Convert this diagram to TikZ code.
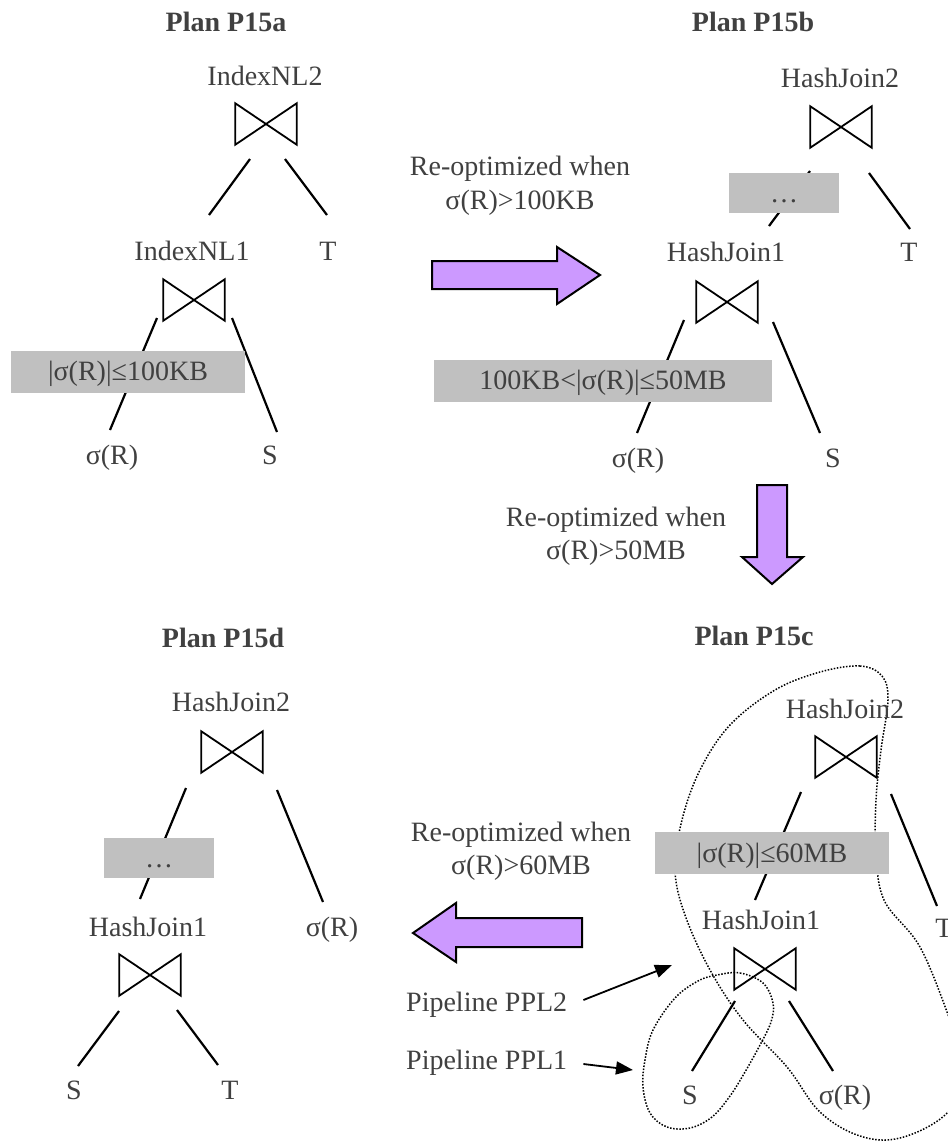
\documentclass[tikz,border=0pt]{standalone}
\usepackage{fontspec}
\setmainfont{Liberation Serif}
\usetikzlibrary{arrows.meta}
\definecolor{ink}{RGB}{64,64,64}
\definecolor{boxgray}{RGB}{192,192,192}
\definecolor{lilac}{RGB}{204,153,255}
\begin{document}
\begin{tikzpicture}[x=1pt,y=-1pt,
  lbl/.style={inner sep=0pt, text=ink, font=\fontsize{28}{34}\selectfont, text height=18.5pt, text depth=0pt},
  title/.style={lbl, font=\fontsize{28}{34}\selectfont\bfseries},
  tie/.style={minimum width=61pt, minimum height=41pt, inner sep=0pt},
  cond/.style={lbl, fill=boxgray, minimum height=42pt},
  edge/.style={line width=2.2pt},
  tieline/.style={line width=1.8pt, line join=miter},
  bigarrow/.style={fill=lilac, draw=black, line width=2pt, line join=miter},
  pipeloop/.style={line width=1.5pt, dash pattern=on 1.5pt off 1.6pt},
  pointer/.style={line width=1.8pt, -{Triangle[length=17pt,width=13pt]}}
]
\useasboundingbox (0,0) rectangle (948,1144);

% pipeline outlines of plan P15c
\draw[pipeloop] plot[smooth cycle, tension=0.6] coordinates {
  (820,672) (860,666) (882,676) (888,700) (881,750) (876,800) (876,850)
  (884,900) (920,947) (950,1020) (968,1075) (945,1115) (900,1138)
  (860,1136) (820,1112) (787,1067) (743,1020) (710,970) (685,915)
  (675,870) (682,820) (700,770) (730,725) (775,690)};
\draw[pipeloop] plot[smooth cycle, tension=0.6] coordinates {
  (717,975) (740,973) (763,983) (773,1003) (771,1022) (760,1045)
  (745,1072) (730,1096) (712,1117) (690,1128) (667,1127) (650,1113)
  (643,1087) (645,1060) (653,1030) (675,998) (698,981)};

% titles
\node[title] (ta) at (226,22) {Plan P15a};
\node[title] (tb) at (753,22) {Plan P15b};
\node[title] (tc) at (754,636) {Plan P15c};
\node[title] (td) at (223,638) {Plan P15d};

% plan P15a
\node[lbl] (a2l) at (265,76) {IndexNL2};
\node[tie] (a2) at (266,124) {};
\node[lbl] (a1l) at (192,251) {IndexNL1};
\node[lbl] (aT) at (328,251) {T};
\node[tie] (a1) at (194,300) {};
\node[lbl] (aR) at (112,455) {σ(R)};
\node[lbl] (aS) at (270,455) {S};

% plan P15b
\node[lbl] (b2l) at (840,78) {HashJoin2};
\node[tie] (b2) at (841,127) {};
\node[lbl] (b1l) at (726,252) {HashJoin1};
\node[lbl] (bT) at (909,252) {T};
\node[tie] (b1) at (727,302) {};
\node[lbl] (bR) at (638,458) {σ(R)};
\node[lbl] (bS) at (833,458) {S};

% plan P15c
\node[lbl] (c2l) at (845,709) {HashJoin2};
\node[tie] (c2) at (846,757) {};
\node[lbl] (c1l) at (761,920) {HashJoin1};
\node[lbl] (cT) at (944,928) {T};
\node[tie] (c1) at (765,969) {};
\node[lbl] (cS) at (690,1095) {S};
\node[lbl] (cR) at (845,1095) {σ(R)};

% plan P15d
\node[lbl] (d2l) at (231,702) {HashJoin2};
\node[tie] (d2) at (232,752) {};
\node[lbl] (d1l) at (148,927) {HashJoin1};
\node[lbl] (dR) at (332,927) {σ(R)};
\node[tie] (d1) at (150,975) {};
\node[lbl] (dS) at (74,1090) {S};
\node[lbl] (dT) at (230,1090) {T};

% join symbols
\foreach \j in {a1,a2,b1,b2,c1,c2,d1,d2}
  \draw[tieline] (\j.north west) -- (\j.south east) -- (\j.north east)
    -- (\j.south west) -- cycle;

% tree edges
\draw[edge] ([shift={(-16,35)}]a2.center) -- ([shift={(17,-36)}]a1l.center);
\draw[edge] ([shift={(19,35)}]a2.center) -- ([shift={(-1,-36)}]aT.center);
\draw[edge] ([shift={(-37,18)}]a1.center) -- ([shift={(-2,-25)}]aR.center);
\draw[edge] ([shift={(38,18)}]a1.center) -- ([shift={(7,-23)}]aS.center);

\draw[edge] ([shift={(-31,44)}]b2.center) -- ([shift={(43,-26)}]b1l.center);
\draw[edge] ([shift={(28,46)}]b2.center) -- ([shift={(1,-23)}]bT.center);
\draw[edge] ([shift={(-43,18)}]b1.center) -- ([shift={(-1,-25)}]bR.center);
\draw[edge] ([shift={(46,20)}]b1.center) -- ([shift={(-13,-25)}]bS.center);

\draw[edge] ([shift={(-45,35)}]c2.center) -- ([shift={(-6,-20)}]c1l.center);
\draw[edge] ([shift={(45,37)}]c2.center) -- ([shift={(-7,-22)}]cT.center);
\draw[edge] ([shift={(-30,32)}]c1.center) -- ([shift={(2,-24)}]cS.center);
\draw[edge] ([shift={(24,32)}]c1.center) -- ([shift={(-12,-24)}]cR.center);

\draw[edge] ([shift={(-46,36)}]d2.center) -- ([shift={(-8,-28)}]d1l.center);
\draw[edge] ([shift={(45,38)}]d2.center) -- ([shift={(-9,-25)}]dR.center);
\draw[edge] ([shift={(-31,36)}]d1.center) -- ([shift={(4,-24)}]dS.center);
\draw[edge] ([shift={(27,35)}]d1.center) -- ([shift={(-12,-25)}]dT.center);

% size conditions
\node[cond, minimum width=234pt] (aB) at (128,371.5) {|σ(R)|≤100KB};
\node[cond, minimum width=110pt, minimum height=40pt] (bD) at (784,193) {…};
\node[cond, minimum width=338pt] (bB) at (603,380.5) {100KB<|σ(R)|≤50MB};
\node[cond, minimum width=234pt] (cB) at (772,853) {|σ(R)|≤60MB};
\node[cond, minimum width=110pt, minimum height=40pt] (dD) at (159,858) {…};

% re-optimization steps
\node[lbl] (r1a) at (520,166) {Re-optimized when};
\node[lbl] (r1b) at (520,200) {σ(R)>100KB};
\draw[bigarrow] (432,261) -- (557,261) -- (557,247) -- (600,275) -- (557,304)
  -- (557,289) -- (432,289) -- cycle;

\node[lbl] (r2a) at (616,517) {Re-optimized when};
\node[lbl] (r2b) at (616,550) {σ(R)>50MB};
\draw[bigarrow] (757,485) -- (787,485) -- (787,557) -- (803,557) -- (772,584)
  -- (742,557) -- (757,557) -- cycle;

\node[lbl] (r3a) at (521,832) {Re-optimized when};
\node[lbl] (r3b) at (521,865) {σ(R)>60MB};
\draw[bigarrow] (582,918) -- (456,918) -- (456,903) -- (413,933) -- (456,962)
  -- (456,947) -- (582,947) -- cycle;

% pipelines
\node[lbl, anchor=west] (p2) at (406,1002) {Pipeline PPL2};
\node[lbl, anchor=west] (p1) at (406,1060) {Pipeline PPL1};
\coordinate (p2tip) at (672,965);
\coordinate (p1tip) at (633,1070);
\draw[pointer] ([shift={(16,-2)}]p2.east) -- (p2tip);
\draw[pointer] ([shift={(16,4)}]p1.east) -- (p1tip);
\end{tikzpicture}
\end{document}
